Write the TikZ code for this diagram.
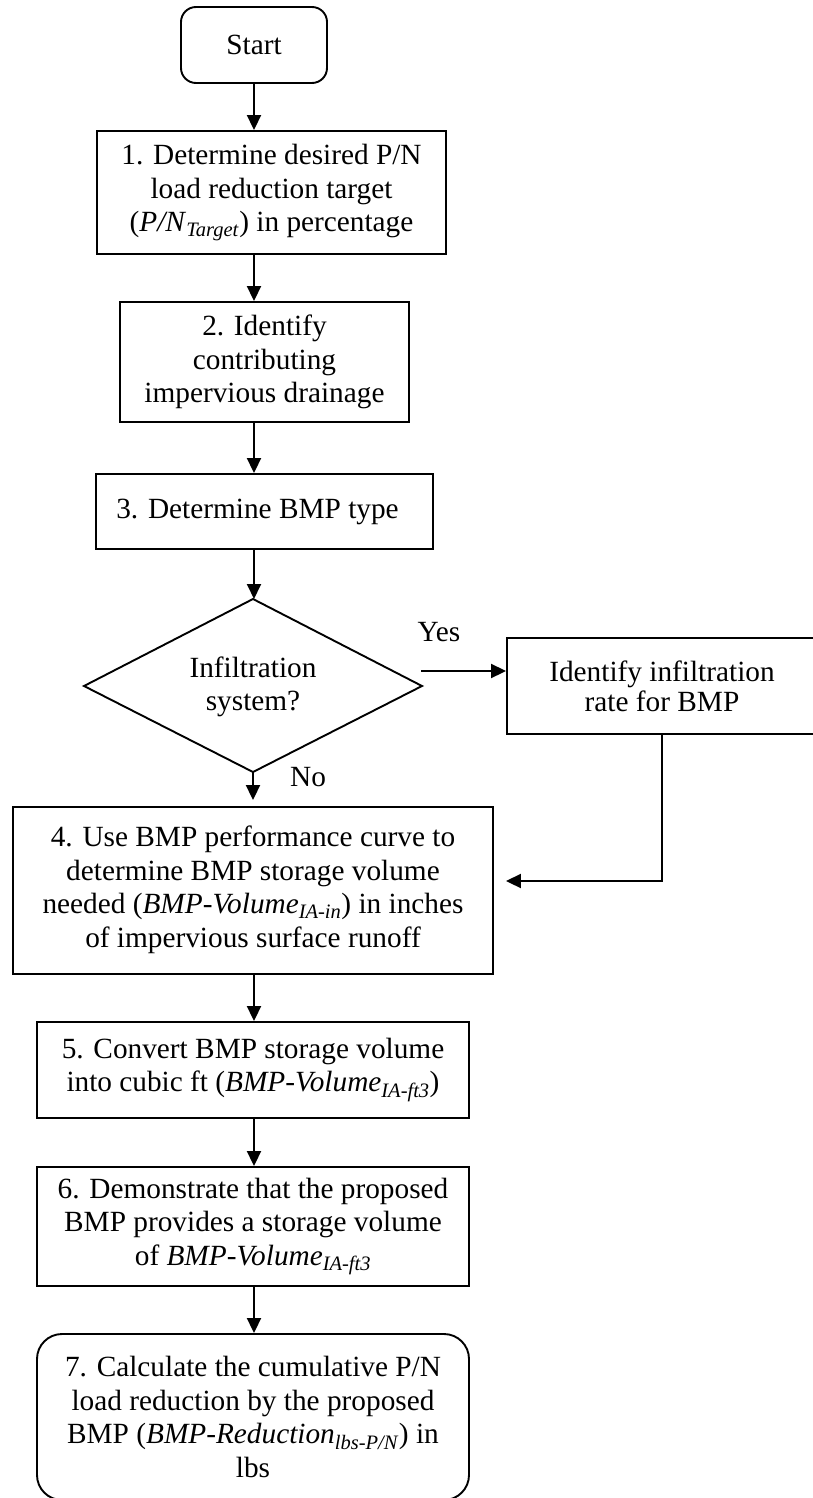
\documentclass[tikz,border=0pt]{standalone}
\usepackage{fontspec}
\setmainfont{Liberation Serif}
\usetikzlibrary{arrows.meta,shapes.geometric}
\newcommand{\sub}[1]{\textsubscript{\textit{#1}}}
\tikzset{
  base/.style={draw=black, line width=1.9pt, align=center, inner sep=0pt,
    font=\fontsize{29.3}{33.5}\selectfont},
  procbox/.style={base, rectangle},
  termbox/.style={base, rectangle, rounded corners=#1},
  lbl/.style={font=\fontsize{29.3}{33.5}\selectfont, inner sep=0pt},
  arr/.style={line width=1.9pt, -{Triangle[length=15pt,width=14pt]}},
  ln/.style={line width=1.9pt}
}
\begin{document}
\begin{tikzpicture}[x=1pt,y=-1pt]
\useasboundingbox (0,0) rectangle (812,1498);
\node[termbox=15pt, minimum width=146pt, minimum height=76pt] (start) at (254,45) {Start};
\node[procbox, minimum width=349pt, minimum height=123pt] (b1) at (271.5,192.5)
  {1. Determine desired P/N\\load reduction target\\(\textit{P/N}\sub{Target}) in percentage};
\node[procbox, minimum width=289pt, minimum height=120pt] (b2) at (264.5,362)
  {2. Identify\\contributing\\impervious drainage};
\node[procbox, minimum width=337pt, minimum height=75pt] (b3) at (264.5,511.5)
  {\hspace*{-14pt}3. Determine BMP type};
\draw[ln] (253,599) -- (84,686) -- (253,772) -- (422,686) -- cycle;
\node[lbl, align=center] (dia) at (253,687) {Infiltration\\system?};
\coordinate (diatop) at (253,599);
\coordinate (diabot) at (253,772);
\coordinate (diaright) at (421,671);
\node[procbox, minimum width=310pt, minimum height=96pt] (ident) at (662,686)
  {\raisebox{-6pt}{\shortstack{Identify infiltration\\rate for BMP}}};
\node[procbox, minimum width=480pt, minimum height=167pt] (b4) at (253,890.5)
  {\raisebox{-4pt}{\begin{tabular}{@{}c@{}}4. Use BMP performance curve to\\determine BMP storage volume\\needed (\textit{BMP-Volume}\sub{IA-in}) in inches\\of impervious surface runoff\end{tabular}}};
\node[procbox, minimum width=432pt, minimum height=96pt] (b5) at (253,1070)
  {5. Convert BMP storage volume\\into cubic ft (\textit{BMP-Volume}\sub{IA-ft3})};
\node[procbox, minimum width=432pt, minimum height=119pt] (b6) at (253,1226.5)
  {6. Demonstrate that the proposed\\BMP provides a storage volume\\of \textit{BMP-Volume}\sub{IA-ft3}};
\node[termbox=25pt, minimum width=432pt, minimum height=166pt] (b7) at (253,1417)
  {7. Calculate the cumulative P/N\\load reduction by the proposed\\BMP (\textit{BMP-Reduction}\sub{lbs-P/N}) in\\lbs};
\node[lbl] (yes) at (439,632) {Yes};
\node[lbl] (no) at (308,777) {No};
\draw[arr] (start.south) -- (start.south |- b1.north);
\draw[arr] (b1.south -| start) -- (b2.north -| start);
\draw[arr] (b2.south -| start) -- (b3.north -| start);
\draw[arr] (b3.south -| start) -- (diatop -| start);
\draw[arr] (diaright) -- (diaright -| ident.west);
\draw[arr, shorten >=12pt] (ident.south) |- ([yshift=9.5pt]b4.east);
\draw[arr, shorten >=6pt] (diabot) -- (diabot |- b4.north);
\draw[arr] (b4.south -| start) -- (b5.north -| start);
\draw[arr] (b5.south -| start) -- (b6.north -| start);
\draw[arr] (b6.south -| start) -- (b7.north -| start);
\end{tikzpicture}
\end{document}
